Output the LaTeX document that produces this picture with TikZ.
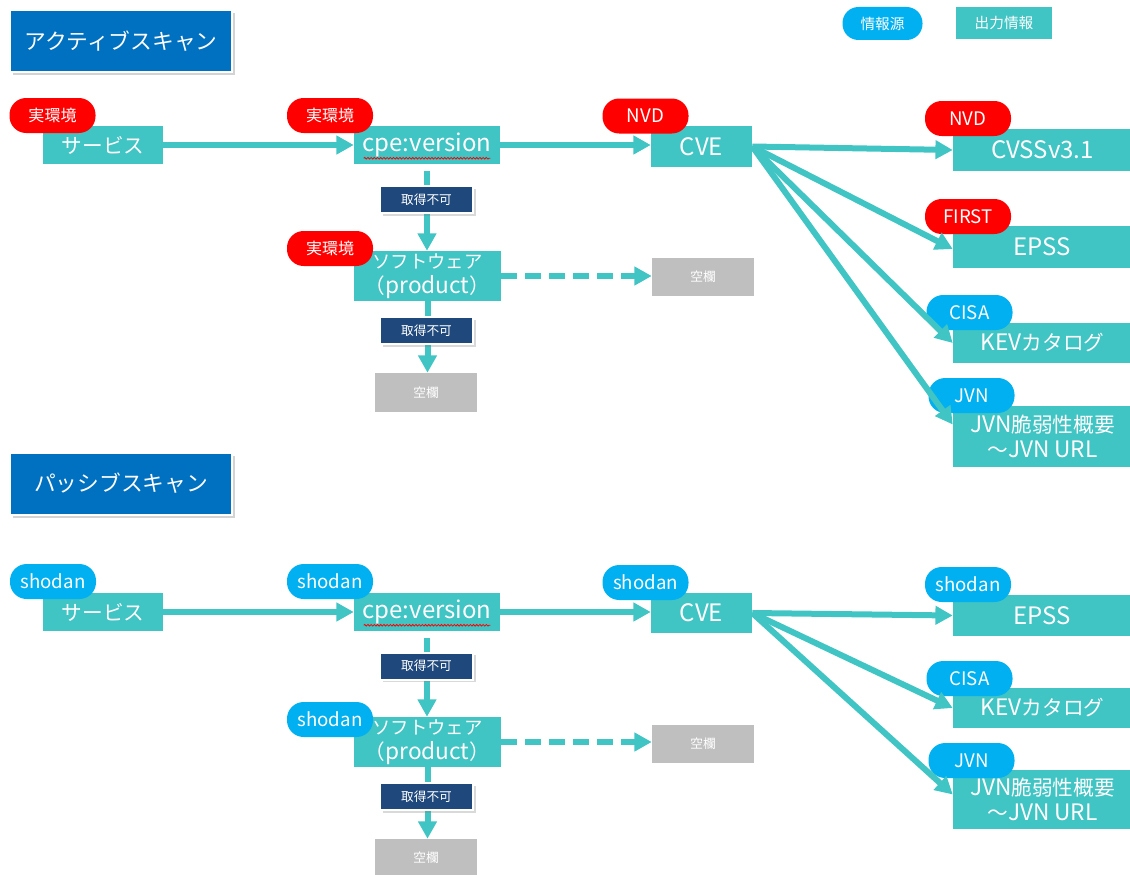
\documentclass[tikz,border=0pt]{standalone}
\usepackage{fontspec}
\setmainfont{Noto Sans CJK JP}
\usetikzlibrary{arrows.meta,shadows,calc,decorations.pathmorphing}
\definecolor{tealbox}{HTML}{40C4C4}
\definecolor{srcred}{HTML}{FF0000}
\definecolor{srcblue}{HTML}{00B0F0}
\definecolor{ngblue}{HTML}{1F497D}
\definecolor{titleblue}{HTML}{0070C0}
\definecolor{blankgray}{HTML}{BFBFBF}
\newcommand\latbig[1]{{\fontsize{18}{19}\selectfont #1}}
\newcommand\latmid[1]{{\fontsize{17}{19}\selectfont #1}}
\newcommand\latpill[1]{{\fontsize{14}{15}\selectfont #1}}
\begin{document}
\begin{tikzpicture}[x=0.75pt,y=-0.75pt,
  sz/.style 2 args={minimum width={#1*0.75pt},minimum height={#2*0.75pt}},
  outbox/.style={fill=tealbox,text=white,inner sep=0pt,align=center,font=\fontsize{15.5}{19}\selectfont},
  srcpill/.style={rounded corners=12.5pt,text=white,inner sep=0pt,sz={86}{35},font=\fontsize{12}{14}\selectfont},
  redsrc/.style={srcpill,fill=srcred},
  bluesrc/.style={srcpill,fill=srcblue},
  ngbox/.style={fill=ngblue,draw=white,line width=1.5pt,text=white,inner sep=0pt,sz={93}{27},
    font=\fontsize{9.5}{11}\selectfont,drop shadow={shadow xshift=2pt,shadow yshift=-2pt,opacity=0.3}},
  blankbox/.style={fill=blankgray,text=white,inner sep=0pt,font=\fontsize{9.5}{11}\selectfont},
  titlebox/.style={fill=titleblue,draw=white,line width=1.5pt,text=white,inner sep=0pt,sz={222}{62},
    font=\fontsize{16.3}{19}\selectfont,drop shadow={shadow xshift=2.5pt,shadow yshift=-2.5pt,opacity=0.35}},
  flow/.style={draw=tealbox,line width=4.5pt,-{Triangle[length=13pt,width=13.5pt]}},
  dflow/.style={flow,dash pattern=on 12pt off 6pt},
  squig/.style={draw=srcred,line width=0.6pt,decorate,decoration={snake,amplitude=0.6pt,segment length=2.4pt}}
]
\useasboundingbox (0,0) rectangle (1130,874);

% legend
\node[srcpill,fill=srcblue,sz={80}{33},rounded corners=12pt,font=\fontsize{11}{13}\selectfont] (lg_src) at (882.5,23.5) {情報源};
\node[outbox,sz={96}{32},font=\fontsize{11}{13}\selectfont] (lg_out) at (1004,23) {出力情報};

% titles
\node[titlebox] (t_active) at (121,41) {アクティブスキャン};
\node[titlebox] (t_passive) at (121,483.5) {パッシブスキャン};

% ===== active scan =====
\node[outbox,sz={120}{38}] (a_svc) at (103,145) {サービス};
\node[outbox,sz={146}{38}] (a_cpe) at (427,145) {\latbig{cpe:version}};
\node[outbox,sz={101}{41}] (a_cve) at (701.5,146.5) {\latbig{CVE}};
\node[outbox,sz={179}{42}] (a_cvss) at (1042.5,150) {\latbig{CVSSv3.1}};
\node[outbox,sz={179}{42}] (a_epss) at (1042.5,247) {\latbig{EPSS}};
\node[outbox,sz={179}{40}] (a_kev) at (1042.5,343) {\latmid{KEV}カタログ};
\node[outbox,sz={179}{61}] (a_jvn) at (1042.5,436.5) {\latmid{JVN}脆弱性概要\\～\latmid{JVN URL}};
\node[outbox,sz={147}{50}] (a_sw) at (427.5,276) {{\fontsize{13.8}{19}\selectfont ソフトウェア}\\（\latmid{product}）};
\node[blankbox,sz={102}{38}] (a_bl1) at (703,277) {空欄};
\node[blankbox,sz={102}{39}] (a_bl2) at (426,392.5) {空欄};

\draw[squig] ($(a_cpe.south west)+(10,-6)$) -- ($(a_cpe.south east)+(-10,-6)$);

\node[redsrc] (a_p_svc) at (52.5,115.5) {実環境};
\node[redsrc] (a_p_cpe) at (330,115.5) {実環境};
\node[redsrc] (a_p_sw) at (330,248.5) {実環境};
\node[redsrc] (a_p_cve) at (645.5,116) {\latpill{NVD}};
\node[redsrc] (a_p_cvss) at (968,118.5) {\latpill{NVD}};
\node[redsrc] (a_p_epss) at (968,216.5) {\latpill{FIRST}};
\node[bluesrc] (a_p_kev) at (969.5,312.5) {\latpill{CISA}};
\node[bluesrc] (a_p_jvn) at (971.5,395.5) {\latpill{JVN}};

\draw[flow] (a_svc.east) -- (a_cpe.west);
\draw[flow] (a_cpe.east) -- (a_cpe.east -| a_cve.west);
\draw[flow] (a_cve.east) -- (a_cvss.west);
\draw[flow] (a_cve.east) -- ($(a_epss.west)+(0,2)$);
\draw[flow] (a_cve.east) -- (a_kev.west);
\draw[flow] (a_cve.east) -- ($(a_jvn.west)+(0,-12)$);
\draw[flow,shorten <=5pt] (a_cpe.south) -- (a_cpe.south |- a_sw.north);
\draw[flow] (a_sw.south) -- (a_sw.south |- a_bl2.north);
\draw[dflow] (a_sw.east) -- (a_sw.east -| a_bl1.west);

\node[ngbox] (a_ng1) at (426.5,199.5) {取得不可};
\node[ngbox] (a_ng2) at (426.5,330.5) {取得不可};

% ===== passive scan =====
\node[outbox,sz={120}{38}] (p_svc) at (103,612) {サービス};
\node[outbox,sz={146}{38}] (p_cpe) at (427,612) {\latbig{cpe:version}};
\node[outbox,sz={101}{40}] (p_cve) at (701.5,613) {\latbig{CVE}};
\node[outbox,sz={179}{41}] (p_epss) at (1042.5,615.5) {\latbig{EPSS}};
\node[outbox,sz={179}{40}] (p_kev) at (1042.5,708) {\latmid{KEV}カタログ};
\node[outbox,sz={179}{59}] (p_jvn) at (1042.5,799.5) {\latmid{JVN}脆弱性概要\\～\latmid{JVN URL}};
\node[outbox,sz={147}{50}] (p_sw) at (427.5,742) {{\fontsize{13.8}{19}\selectfont ソフトウェア}\\（\latmid{product}）};
\node[blankbox,sz={102}{38}] (p_bl1) at (703,744) {空欄};
\node[blankbox,sz={102}{38}] (p_bl2) at (426,858) {空欄};

\draw[squig] ($(p_cpe.south west)+(10,-6)$) -- ($(p_cpe.south east)+(-10,-6)$);

\node[bluesrc] (p_p_svc) at (53,581.5) {\latpill{shodan}};
\node[bluesrc] (p_p_cpe) at (330,581.5) {\latpill{shodan}};
\node[bluesrc] (p_p_sw) at (330,719.5) {\latpill{shodan}};
\node[bluesrc] (p_p_cve) at (645.5,582.5) {\latpill{shodan}};
\node[bluesrc] (p_p_epss) at (968,584.5) {\latpill{shodan}};
\node[bluesrc] (p_p_kev) at (969.5,678.5) {\latpill{CISA}};
\node[bluesrc] (p_p_jvn) at (971.5,760.5) {\latpill{JVN}};

\draw[flow] (p_svc.east) -- (p_cpe.west);
\draw[flow] (p_cpe.east) -- (p_cpe.east -| p_cve.west);
\draw[flow] (p_cve.east) -- (p_epss.west);
\draw[flow] (p_cve.east) -- (p_kev.west);
\draw[flow] (p_cve.east) -- ($(p_jvn.west)+(0,-5)$);
\draw[flow,shorten <=5pt] (p_cpe.south) -- (p_cpe.south |- p_sw.north);
\draw[flow] (p_sw.south) -- (p_sw.south |- p_bl2.north);
\draw[dflow] (p_sw.east) -- (p_sw.east -| p_bl1.west);

\node[ngbox] (p_ng1) at (426.5,666) {取得不可};
\node[ngbox] (p_ng2) at (426.5,796.5) {取得不可};
\end{tikzpicture}
\end{document}
